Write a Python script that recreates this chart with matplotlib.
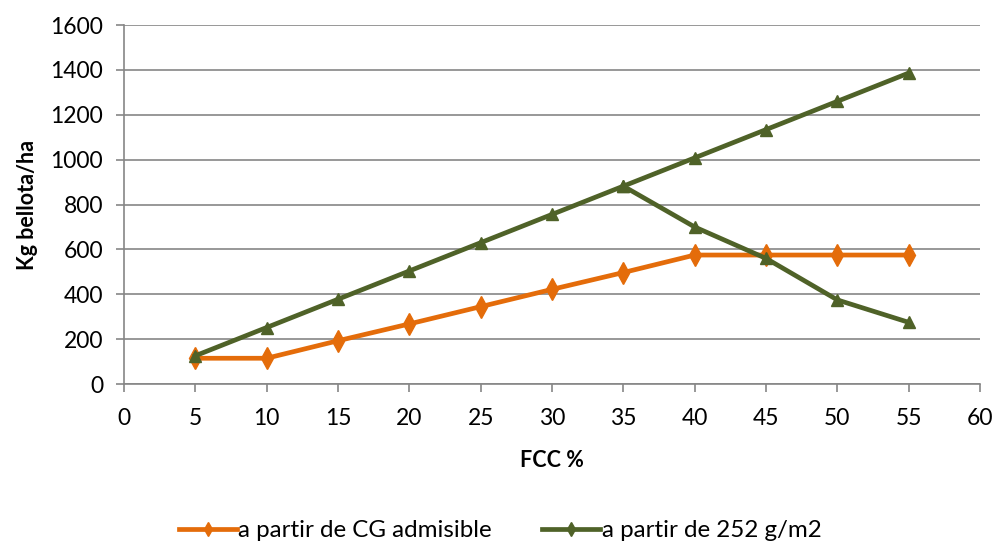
import matplotlib.pyplot as plt
from matplotlib.lines import Line2D

plt.rcParams['font.family'] = ['Lato', 'DejaVu Sans']

fcc = [5, 10, 15, 20, 25, 30, 35, 40, 45, 50, 55]
cg_admisible = [115, 115, 193, 268, 345, 422, 497, 575, 575, 575, 575]
a_252 = [126, 252, 378, 504, 630, 756, 882, 1008, 1134, 1260, 1386]

# branch of the 252 g/m2 curve that falls after FCC 35 %
fcc_branch = [35, 40, 45, 50, 55]
a_252_branch = [882, 700, 560, 375, 275]

orange = '#E46C0A'
green = '#4F6228'
axis_gray = '#868686'

fig = plt.figure(figsize=(9.98, 5.44), dpi=100)
ax = fig.add_axes([0.1242, 0.294, 0.8578, 0.66])

ax.plot(fcc, cg_admisible, color=orange, lw=3.4, marker='d', ms=11, zorder=3)
ax.plot(fcc, a_252, color=green, lw=3.4, marker='^', ms=9, zorder=4)
ax.plot(fcc_branch, a_252_branch, color=green, lw=3.4, marker='^', ms=9, zorder=4)

ax.set_xlim(0, 60)
ax.set_ylim(0, 1600)
ax.set_xticks(range(0, 61, 5))
ax.set_yticks(range(0, 1601, 200))
ax.yaxis.grid(True, color=axis_gray, lw=1.2)
ax.set_axisbelow(True)

for side in ['top', 'right']:
    ax.spines[side].set_visible(False)
for side in ['left', 'bottom']:
    ax.spines[side].set_color(axis_gray)
    ax.spines[side].set_linewidth(1.2)
ax.tick_params(axis='both', colors=axis_gray, length=6, width=1.2,
               labelsize=16.5, labelcolor='black')
ax.tick_params(axis='y', pad=9)
ax.tick_params(axis='x', pad=11)

ax.set_xlabel('FCC %', fontsize=15.5, fontweight='bold', labelpad=15)
ax.set_ylabel('Kg bellota/ha', fontsize=15.5, fontweight='bold', labelpad=9)

handles = [
    Line2D([], [], color=orange, lw=3.4, marker='d', ms=7),
    Line2D([], [], color=green, lw=3.4, marker='d', ms=7),
]
fig.legend(handles, ['a partir de CG admisible', 'a partir de 252 g/m2'],
           loc='center', bbox_to_anchor=(0.501, 0.024), ncol=2, frameon=False,
           fontsize=17.4, handlelength=2.4, handletextpad=0.05, columnspacing=2.1,
           borderaxespad=0, borderpad=0)

fig.savefig('out.png', dpi=100)
